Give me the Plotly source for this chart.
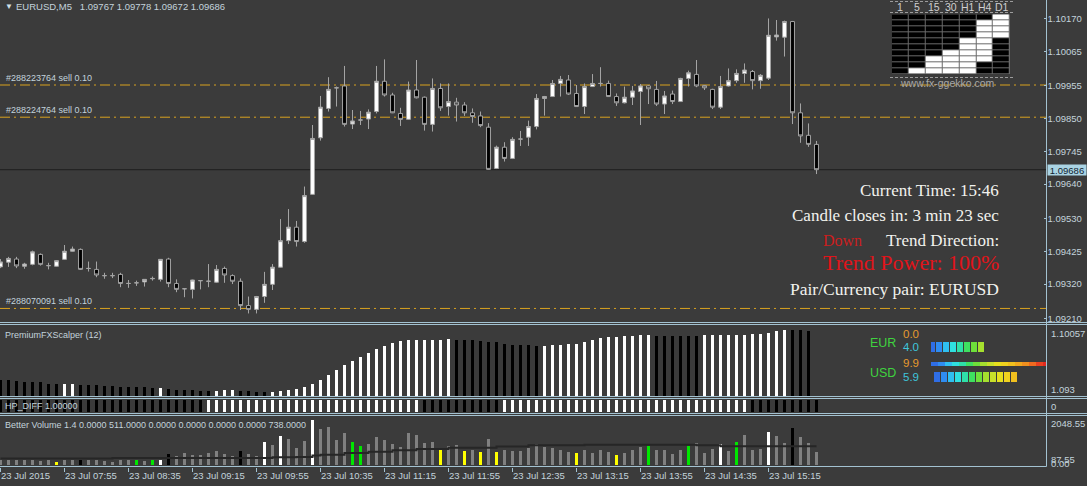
import plotly.graph_objects as go

W, H = 1087, 486

# ---------------- data ----------------
symbol_title = "EURUSD,M5\u00a0\u00a0 1.09767 1.09778 1.09672 1.09686"

opens = [1.09375, 1.09390, 1.09400, 1.09377, 1.09383, 1.09415, 1.09379, 1.09377, 1.09399, 1.09425,
         1.09431, 1.09370, 1.09367, 1.09347, 1.09347, 1.09351, 1.09322, 1.09324, 1.09327, 1.09337,
         1.09335, 1.09400, 1.09322, 1.09305, 1.09303, 1.09331, 1.09329, 1.09326, 1.09370, 1.09347,
         1.09329, 1.09251, 1.09239, 1.09280, 1.09319, 1.09374, 1.09459, 1.09502, 1.09456, 1.09607,
         1.09788, 1.09882, 1.09948, 1.09954, 1.09832, 1.09845, 1.09848, 1.09872, 1.09969, 1.09925,
         1.09866, 1.09847, 1.09941, 1.09918, 1.09831, 1.09946, 1.09888, 1.09902, 1.09893, 1.09868,
         1.09858, 1.09822, 1.09690, 1.09758, 1.09722, 1.09784, 1.09790, 1.09824, 1.09914, 1.09920,
         1.09962, 1.09973, 1.09930, 1.09888, 1.09952, 1.09962, 1.09962, 1.09920, 1.09900, 1.09918,
         1.09936, 1.09954, 1.09943, 1.09896, 1.09928, 1.09904, 1.09978, 1.09991, 1.09955, 1.09943,
         1.09886, 1.09954, 1.09971, 1.09994, 1.10000, 1.09971, 1.09979, 1.10111, 1.10110, 1.10160,
         1.09868, 1.09796, 1.09767]
highs = [1.09400, 1.09407, 1.09407, 1.09388, 1.09427, 1.09418, 1.09388, 1.09397, 1.09445, 1.09440,
         1.09434, 1.09392, 1.09392, 1.09356, 1.09356, 1.09356, 1.09333, 1.09331, 1.09336, 1.09344,
         1.09400, 1.09404, 1.09335, 1.09306, 1.09334, 1.09333, 1.09384, 1.09381, 1.09376, 1.09351,
         1.09338, 1.09280, 1.09282, 1.09359, 1.09384, 1.09528, 1.09560, 1.09522, 1.09632, 1.09829,
         1.09922, 1.09982, 1.09952, 1.10018, 1.09877, 1.09874, 1.09879, 1.10018, 1.10039, 1.09932,
         1.09884, 1.09968, 1.10037, 1.09920, 1.09978, 1.09962, 1.09962, 1.09916, 1.09902, 1.09882,
         1.09872, 1.09835, 1.09763, 1.09774, 1.09790, 1.09810, 1.09843, 1.09928, 1.09922, 1.09973,
         1.09986, 1.09989, 1.09957, 1.09962, 1.09992, 1.10014, 1.09971, 1.09930, 1.09952, 1.09954,
         1.09960, 1.09956, 1.09970, 1.09938, 1.09939, 1.09980, 1.10003, 1.10037, 1.09956, 1.09945,
         1.09986, 1.10010, 1.10007, 1.10026, 1.10005, 1.09992, 1.10170, 1.10165, 1.10163, 1.10162,
         1.09898, 1.09834, 1.09778]
lows = [1.09371, 1.09375, 1.09371, 1.09369, 1.09380, 1.09379, 1.09367, 1.09376, 1.09397, 1.09424,
        1.09365, 1.09360, 1.09342, 1.09337, 1.09339, 1.09310, 1.09308, 1.09314, 1.09312, 1.09331,
        1.09328, 1.09310, 1.09294, 1.09278, 1.09274, 1.09303, 1.09310, 1.09324, 1.09324, 1.09320,
        1.09237, 1.09226, 1.09226, 1.09260, 1.09301, 1.09373, 1.09448, 1.09440, 1.09452, 1.09606,
        1.09779, 1.09872, 1.09888, 1.09824, 1.09816, 1.09829, 1.09816, 1.09866, 1.09920, 1.09867,
        1.09826, 1.09845, 1.09914, 1.09811, 1.09808, 1.09874, 1.09859, 1.09840, 1.09858, 1.09836,
        1.09822, 1.09686, 1.09688, 1.09712, 1.09720, 1.09762, 1.09762, 1.09815, 1.09859, 1.09919,
        1.09920, 1.09925, 1.09887, 1.09864, 1.09951, 1.09952, 1.09919, 1.09890, 1.09898, 1.09893,
        1.09829, 1.09896, 1.09890, 1.09864, 1.09896, 1.09903, 1.09952, 1.09950, 1.09941, 1.09880,
        1.09880, 1.09952, 1.09964, 1.09964, 1.09943, 1.09945, 1.09973, 1.10099, 1.10048, 1.09832,
        1.09772, 1.09759, 1.09672]
closes = [1.09391, 1.09402, 1.09378, 1.09384, 1.09423, 1.09383, 1.09379, 1.09395, 1.09425, 1.09432,
          1.09367, 1.09370, 1.09349, 1.09347, 1.09347, 1.09322, 1.09322, 1.09324, 1.09335, 1.09338,
          1.09399, 1.09322, 1.09303, 1.09305, 1.09333, 1.09331, 1.09329, 1.09367, 1.09349, 1.09329,
          1.09251, 1.09239, 1.09280, 1.09319, 1.09374, 1.09459, 1.09502, 1.09456, 1.09603, 1.09786,
          1.09886, 1.09943, 1.09948, 1.09831, 1.09842, 1.09845, 1.09870, 1.09969, 1.09925, 1.09868,
          1.09847, 1.09941, 1.09916, 1.09831, 1.09946, 1.09884, 1.09904, 1.09893, 1.09868, 1.09856,
          1.09827, 1.09687, 1.09758, 1.09722, 1.09783, 1.09784, 1.09824, 1.09914, 1.09920, 1.09962,
          1.09975, 1.09928, 1.09888, 1.09952, 1.09962, 1.09962, 1.09920, 1.09900, 1.09918, 1.09938,
          1.09954, 1.09945, 1.09896, 1.09922, 1.09904, 1.09978, 1.09996, 1.09954, 1.09948, 1.09886,
          1.09952, 1.09971, 1.09994, 1.10005, 1.09971, 1.09988, 1.10116, 1.10117, 1.10160, 1.09868,
          1.09794, 1.09767, 1.09686]

x_tick_index = [0, 8, 16, 24, 32, 40, 48, 56, 64, 72, 80, 88, 96]
x_tick_text = ["23 Jul 2015", "23 Jul 07:55", "23 Jul 08:35", "23 Jul 09:15", "23 Jul 09:55",
               "23 Jul 10:35", "23 Jul 11:15", "23 Jul 11:55", "23 Jul 12:35", "23 Jul 13:15",
               "23 Jul 13:55", "23 Jul 14:35", "23 Jul 15:15"]
price_ticks = [1.10170, 1.10065, 1.09955, 1.09850, 1.09745, 1.09640, 1.09530, 1.09425, 1.09320, 1.09210]
bid_price = 1.09686

order_labels = ["#288223764 sell 0.10", "#288224764 sell 0.10", "#288070091 sell 0.10"]
order_prices = [1.09957, 1.09854, 1.09242]

# PremiumFXScalper (12)
scalper = [1.09471, 1.09471, 1.09460, 1.09452, 1.09446, 1.09446, 1.09428, 1.09428, 1.09428, 1.09428,
           1.09417, 1.09417, 1.09417, 1.09407, 1.09407, 1.09399, 1.09399, 1.09393, 1.09393, 1.09382,
           1.09382, 1.09371, 1.09364, 1.09364, 1.09364, 1.09357, 1.09353, 1.09357, 1.09364, 1.09364,
           1.09353, 1.09353, 1.09346, 1.09346, 1.09346, 1.09353, 1.09364, 1.09371, 1.09399, 1.09428,
           1.09471, 1.09524, 1.09577, 1.09630, 1.09673, 1.09719, 1.09755, 1.09798, 1.09833, 1.09868,
           1.09886, 1.09900, 1.09900, 1.09900, 1.09900, 1.09900, 1.09904, 1.09900, 1.09900, 1.09894,
           1.09886, 1.09876, 1.09876, 1.09858, 1.09847, 1.09840, 1.09840, 1.09833, 1.09833, 1.09840,
           1.09840, 1.09851, 1.09858, 1.09876, 1.09894, 1.09921, 1.09929, 1.09929, 1.09936, 1.09940,
           1.09947, 1.09947, 1.09940, 1.09940, 1.09940, 1.09940, 1.09940, 1.09940, 1.09947, 1.09947,
           1.09947, 1.09953, 1.09953, 1.09953, 1.09958, 1.09964, 1.09975, 1.09990, 1.10000, 1.10007,
           1.10000, 1.09990]
# colour runs (state, count): 0 = black, 1 = white
scalper_runs = [(0, 8), (1, 2), (0, 10), (1, 1), (0, 6), (1, 3), (0, 4), (1, 23), (0, 11),
                (1, 14), (0, 6), (1, 11), (0, 3)]
scalper_max_label, scalper_min_label = "1.10057", "1.093"
scalper_range = [1.093, 1.10057]

# HP_DIFF runs
hp_diff_value = 1.0
hp_runs = [(0, 26), (1, 27), (0, 10), (1, 31), (0, 9)]

# Better Volume 1.4
volume = [221, 221, 221, 221, 221, 164, 221, 121, 221, 221,
          221, 221, 221, 164, 121, 221, 221, 192, 164, 192,
          192, 477, 363, 505, 405, 405, 505, 590, 477, 363,
          590, 477, 377, 975, 861, 1216, 1117, 733, 1017, 1928,
          1544, 1615, 1046, 1359, 975, 804, 903, 1188, 1046, 903,
          761, 1359, 1259, 932, 960, 619, 790, 832, 590, 619,
          548, 1103, 548, 619, 590, 590, 733, 875, 761, 733,
          647, 548, 505, 619, 505, 647, 548, 405, 505, 619,
          761, 804, 619, 619, 448, 647, 804, 946, 505, 662,
          903, 590, 960, 1259, 619, 690, 1387, 1216, 946, 1558,
          1188, 946, 548]
vol_average = [263, 263, 263, 263, 263, 263, 263, 263, 263, 263,
               263, 263, 263, 263, 292, 292, 292, 292, 292, 292,
               292, 292, 292, 292, 292, 292, 292, 292, 292, 292,
               292, 292, 292, 292, 320, 320, 320, 334, 334, 400,
               434, 434, 434, 505, 505, 505, 560, 560, 560, 620,
               620, 620, 680, 680, 680, 680, 733, 733, 733, 733,
               733, 733, 780, 780, 780, 780, 832, 832, 832, 832,
               832, 832, 832, 861, 861, 861, 861, 861, 861, 861,
               861, 861, 861, 861, 861, 861, 861, 832, 832, 832,
               790, 790, 790, 790, 790, 790, 790, 790, 790, 790,
               790, 790, 790]
vol_special = {7: "climax_low", 10: "churn_low", 17: "low_vol", 19: "low_vol", 20: "climax_high",
               21: "churn_low", 30: "churn_low", 33: "climax_high", 35: "climax_high", 39: "climax_high",
               44: "low_vol", 45: "low_vol", 55: "climax_low", 58: "climax_low", 60: "climax_low",
               62: "climax_low", 72: "climax_low", 77: "climax_low", 81: "low_vol", 86: "low_vol",
               90: "climax_high", 92: "low_vol", 96: "climax_high", 99: "churn_low"}
vol_title = "Better Volume 1.4 0.0000 511.0000 0.0000 0.0000 0.0000 0.0000 738.0000"
vol_max_label, vol_mid_label, vol_min_label = "2048.55", "87.55", "0.00"

# multi-timeframe grid widget (1 = white)
tf_labels = ["1", "5", "15", "30", "H1", "H4", "D1"]
tf_grid = [[0, 0, 0, 0, 0, 0, 1],
           [0, 0, 0, 0, 0, 1, 1],
           [0, 0, 0, 0, 0, 1, 1],
           [0, 0, 0, 0, 0, 1, 1],
           [0, 0, 0, 0, 1, 1, 0],
           [0, 0, 0, 0, 1, 1, 0],
           [0, 0, 0, 1, 1, 1, 0],
           [0, 0, 1, 1, 1, 1, 0],
           [0, 0, 1, 1, 1, 0, 0],
           [0, 1, 1, 1, 1, 0, 0]]

# currency strength meter
currencies = ["EUR", "USD"]
strength_a = [0.0, 9.9]
strength_b = [4.0, 5.9]

info_lines = ["Current Time: 15:46", "Candle closes in: 3 min 23 sec"]
trend_dir = "Down"
trend_power = "Trend Power: 100%"
pair_line = "Pair/Currency pair: EURUSD"

# ---------------- style ----------------
BG = "#3b3b3b"
AXC = "#a3c2d1"
TXT = "#c3d3db"
MT = '"Liberation Sans", Arial, sans-serif'
SERIF = '"Liberation Serif", "DejaVu Serif", serif'
FS = 9.5

def fx(p):
    return p / W

def fy(p):
    return 1 - p / H

PLOT_R = 1046.5
n = len(opens)
idx = list(range(n))
x_range = [(0 - 0.5) / 8, (PLOT_R - 0.5) / 8]
price_range = [1.10229 - 322 / 31250, 1.10229]

def expand(runs):
    out = []
    for s, c in runs:
        out += [s] * c
    return out

fig = go.Figure()

# main candles
fig.add_trace(go.Candlestick(
    x=idx, open=opens, high=highs, low=lows, close=closes,
    increasing=dict(fillcolor="#ffffff", line=dict(color="#a4a4a4", width=1)),
    decreasing=dict(fillcolor="#000000", line=dict(color="#a4a4a4", width=1)),
    whiskerwidth=0, xaxis="x", yaxis="y", showlegend=False, hoverinfo="skip"))

# scalper histogram
sc_state = expand(scalper_runs)
fig.add_trace(go.Bar(
    x=idx[:len(scalper)], y=scalper, width=0.33,
    marker=dict(color=["#ffffff" if s else "#000000" for s in sc_state], line=dict(width=0)),
    xaxis="x2", yaxis="y2", showlegend=False, hoverinfo="skip"))

# HP_DIFF
hp_state = expand(hp_runs)
fig.add_trace(go.Bar(
    x=idx, y=[hp_diff_value] * len(hp_state), width=0.33,
    marker=dict(color=["#ffffff" if s else "#000000" for s in hp_state], line=dict(width=0)),
    xaxis="x3", yaxis="y3", showlegend=False, hoverinfo="skip"))

# Better volume
vcol_map = {"climax_low": "#ffff00", "churn_low": "#000000", "low_vol": "#00e600",
            "climax_high": "#ffffff"}
vcols = [vcol_map.get(vol_special.get(i), "#808080") for i in idx]
fig.add_trace(go.Bar(
    x=idx, y=volume, width=0.36, marker=dict(color=vcols, line=dict(width=0)),
    xaxis="x4", yaxis="y4", showlegend=False, hoverinfo="skip"))
fig.add_trace(go.Scatter(
    x=idx, y=vol_average, mode="lines", line=dict(color="#262626", width=2, shape="hv"),
    xaxis="x4", yaxis="y4", showlegend=False, hoverinfo="skip"))

# timeframe grid
fig.add_trace(go.Heatmap(
    z=tf_grid, x=list(range(len(tf_labels))), y=list(range(len(tf_grid))),
    colorscale=[[0, "#000000"], [1, "#ffffff"]], zmin=0, zmax=1, showscale=False,
    xgap=1, ygap=1, xaxis="x5", yaxis="y5", hoverinfo="skip"))

# strength meter segments
seg_colors = ["#2f6ee6", "#2f8cf0", "#2fbff0", "#2fe0e0", "#2fe0a8", "#3ee060", "#6ee03a",
              "#a6e02e", "#c8e02a", "#e6e01e", "#f0d21e", "#f0c01e", "#f0a81e", "#f0901e",
              "#f06a20", "#ea4020", "#e02a20", "#d81e1e", "#d01a1a", "#c81818"]
row_tops_a = [4.0, 33.7]
row_tops_b = [14.0, 43.7]
for ci in range(len(currencies)):
    for val, top, hgt in ((strength_a[ci], row_tops_a[ci], 4.3), (strength_b[ci], row_tops_b[ci], 10.0)):
        k = int(round(val * 2))
        if k == 0:
            continue
        fig.add_trace(go.Bar(
            x=[j + 0.5 for j in range(k)], y=[hgt] * k, base=[top] * k, width=0.86,
            marker=dict(color=seg_colors[:k], line=dict(width=0)),
            xaxis="x6", yaxis="y6", showlegend=False, hoverinfo="skip"))

# ---------------- layout ----------------
def hidden_x(dom, anchor):
    return dict(domain=dom, range=x_range, anchor=anchor, showgrid=False, zeroline=False,
                showticklabels=False, showline=False, ticks="", fixedrange=True, automargin=False)

def hidden_y(dom, rng, anchor, **kw):
    return dict(domain=dom, range=rng, anchor=anchor, showgrid=False, zeroline=False,
                showticklabels=False, showline=False, ticks="", automargin=False, **kw)

xd = [0, fx(PLOT_R)]
layout = dict(
    width=W, height=H, margin=dict(l=0, r=0, t=0, b=0, autoexpand=False),
    paper_bgcolor=BG, plot_bgcolor=BG, showlegend=False, bargap=0,
    xaxis=dict(hidden_x(xd, "y"), rangeslider=dict(visible=False)),
    yaxis=dict(domain=[fy(322), 1], range=price_range, side="right", showgrid=False,
               zeroline=False, showline=False, tickvals=price_ticks, automargin=False,
               ticktext=[f"{v:.5f}" for v in price_ticks], ticks="inside", ticklen=3,
               tickcolor=AXC, tickfont=dict(family=MT, size=FS, color=TXT), anchor="x"),
    xaxis2=hidden_x(xd, "y2"),
    yaxis2=hidden_y([fy(396), fy(325)], scalper_range, "x2"),
    xaxis3=hidden_x(xd, "y3"),
    yaxis3=hidden_y([fy(412), fy(399.5)], [0, 1], "x3"),
    xaxis4=dict(domain=xd, range=x_range, anchor="y4", showgrid=False, zeroline=False,
                showline=False, tickvals=x_tick_index, ticktext=x_tick_text, ticks="outside",
                ticklen=4, tickcolor=AXC, ticklabelposition="outside right", tickangle=0,
                automargin=False, tickfont=dict(family=MT, size=FS, color=TXT)),
    yaxis4=hidden_y([fy(466.5), fy(416)], [-75, 2091], "x4"),
    xaxis5=dict(domain=[fx(891.7), fx(1010)], range=[-0.5, 6.5], anchor="y5", visible=False),
    yaxis5=dict(domain=[fy(74), fy(14.3)], range=[9.5, -0.5], anchor="x5", visible=False),
    xaxis6=dict(domain=[fx(931), fx(1046)], range=[0, 115 / 7], anchor="y6", visible=False),
    yaxis6=dict(domain=[fy(384), fy(328)], range=[56, 0], anchor="x6", visible=False),
)

shapes = []
# order lines & bid line
for p in order_prices:
    shapes.append(dict(type="line", xref="paper", yref="y", x0=0, x1=fx(PLOT_R), y0=p, y1=p,
                       line=dict(color="#d9a21f", width=1, dash="10px,4px,2px,4px"), layer="below"))
shapes.append(dict(type="line", xref="paper", yref="y", x0=0, x1=fx(PLOT_R), y0=bid_price, y1=bid_price,
                   line=dict(color="#1e1e1e", width=1), layer="below"))
# panel separators (crisp 1px lines)
for yy in (322.5, 324.5, 396.5, 398.5, 413.5, 415.5):
    shapes.append(dict(type="line", xref="paper", yref="paper", x0=0, x1=1, y0=fy(yy), y1=fy(yy),
                       line=dict(color=AXC, width=1)))
shapes.append(dict(type="line", xref="paper", yref="paper", x0=0, x1=fx(PLOT_R), y0=fy(466.5), y1=fy(466.5),
                   line=dict(color=AXC, width=1)))
shapes.append(dict(type="line", xref="paper", yref="paper", x0=fx(PLOT_R), x1=fx(PLOT_R), y0=fy(466.5), y1=1,
                   line=dict(color=AXC, width=1)))
# widget frame
shapes.append(dict(type="rect", xref="x5", yref="y5", x0=-0.5, x1=6.5, y0=-0.5, y1=9.5,
                   fillcolor="#6a6a6a", line=dict(width=0), layer="below"))
for yy in (1.5, 12.5, 77.5):
    shapes.append(dict(type="line", xref="paper", yref="paper", x0=fx(890), x1=fx(1013), y0=fy(yy), y1=fy(yy),
                       line=dict(color="#9c9c9c", width=1, dash="3px,2px")))
layout["shapes"] = shapes

ann = []
def text(x, y, s, size=FS, color=TXT, family=MT, xanchor="left", xref="paper", yref="paper", **kw):
    ann.append(dict(x=x, y=y, text=s, xref=xref, yref=yref, xanchor=xanchor, yanchor="middle",
                    showarrow=False, font=dict(family=family, size=size, color=color), **kw))

text(fx(3), fy(7), "\u25bc", size=8, color="#d0e0e8")
text(fx(14), fy(7), symbol_title)
for lab, p in zip(order_labels, order_prices):
    text(fx(4), p, lab, size=9, yref="y", yshift=7)
text(fx(PLOT_R + 0.5), bid_price, f"{bid_price:.5f}", color="#122430",
     yref="y", bgcolor="#a9d3e3", borderpad=0, width=38, height=10)
text(fx(3), fy(335), "PremiumFXScalper (12)", size=9)
text(fx(3), fy(406), f"HP_DIFF {hp_diff_value:.5f}", size=9)
text(fx(3), fy(425), vol_title, size=9)
text(fx(1049), fy(333), scalper_max_label)
text(fx(1049), fy(389), scalper_min_label)
text(fx(1049), fy(406), "0")
text(fx(1049), fy(423), vol_max_label)
text(fx(1049), fy(459.5), vol_mid_label)
text(fx(1049), fy(463), vol_min_label)

# widget header / footer
for j, lab in enumerate(tf_labels):
    text(j, fy(7.2), lab, size=10.5, color="#cfcfcf", xanchor="center", xref="x5")
text(fx(948), fy(82.7), "www.fx-ggekko.com", size=10.5, color="#a8a8a8", xanchor="center")

# strength labels
cur_y = [342.7, 372.7]
a_y = [334, 363.3]
b_y = [346.7, 376.7]
for ci, cur in enumerate(currencies):
    text(fx(868), fy(cur_y[ci]), cur, size=12.5, color="#3fd23f")
    text(fx(901), fy(a_y[ci]), f"{strength_a[ci]:.1f}", size=11.5, color="#e69a2e")
    text(fx(901), fy(b_y[ci]), f"{strength_b[ci]:.1f}", size=11.5, color="#3ec6dc")

# info block
text(fx(1001), fy(190), info_lines[0], size=17, color="#f2f2ee", family=SERIF, xanchor="right")
text(fx(1001), fy(215), info_lines[1], size=17, color="#f2f2ee", family=SERIF, xanchor="right")
text(fx(842), fy(240), trend_dir, size=16, color="#cc1e1e", family=SERIF, xanchor="center")
text(fx(1001), fy(240), "Trend Direction:", size=17, color="#f2f2ee", family=SERIF, xanchor="right")
text(fx(1001), fy(262), trend_power, size=22, color="#e0141a", family=SERIF, xanchor="right")
text(fx(1001), fy(289), pair_line, size=17.5, color="#f2f2ee", family=SERIF, xanchor="right")

layout["annotations"] = ann
fig.update_layout(**layout)
fig.write_html("out.html")
